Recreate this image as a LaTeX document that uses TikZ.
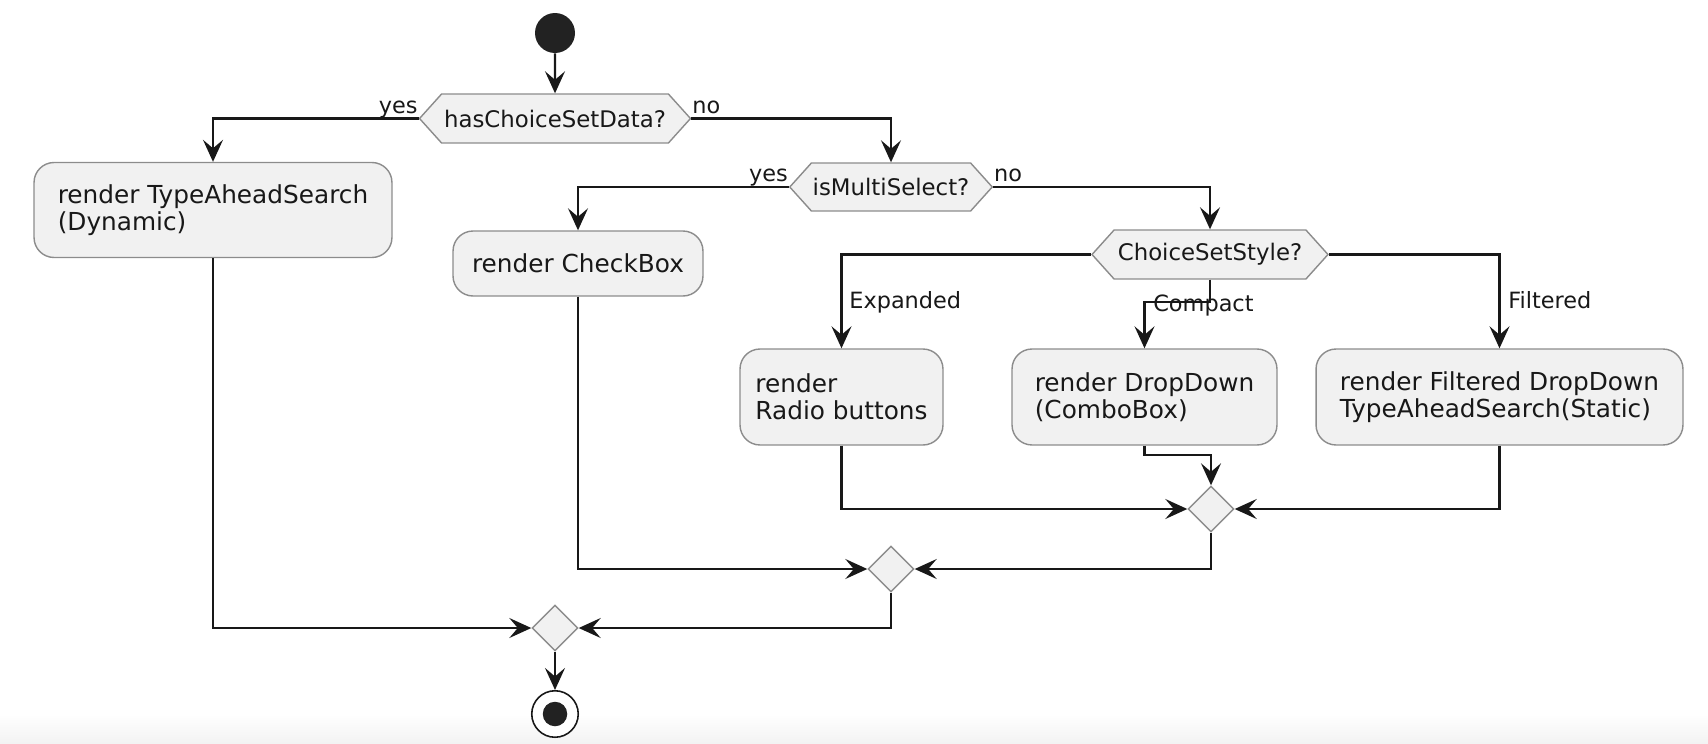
\documentclass[tikz,border=0pt]{standalone}
\usepackage{fontspec}
\setmainfont{DejaVu Sans}
\usetikzlibrary{arrows.meta, shapes.geometric, shapes.symbols}

\definecolor{linecol}{HTML}{181818}
\definecolor{boxfill}{HTML}{F1F1F1}
\definecolor{boxline}{HTML}{8C8C8C}
\definecolor{dotcol}{HTML}{222222}

\tikzset{
  actbox/.style={draw=boxline, fill=boxfill, line width=0.8pt,
                 rounded corners=0.4cm, align=left, inner sep=0pt,
                 text=linecol, font=\fontsize{14.1pt}{15.5pt}\selectfont},
  decision/.style={signal, signal to=west and east, signal pointer angle=96,
                   draw=boxline, fill=boxfill, line width=0.8pt, inner sep=0pt,
                   minimum height=0.98cm, text=linecol,
                   font=\fontsize{13pt}{15pt}\selectfont},
  merge/.style={diamond, aspect=1, draw=boxline, fill=boxfill, line width=0.8pt,
                inner sep=0pt, minimum size=0.92cm},
  flow/.style={draw=linecol, line width=1.2pt,
               -{Stealth[length=0.44cm, width=0.4cm, inset=0.17cm]}},
  lbl/.style={inner sep=0pt, text=linecol,
              font=\fontsize{12.75pt}{15pt}\selectfont},
}

\begin{document}
\begin{tikzpicture}[x=0.02cm, y=-0.02cm]
    \useasboundingbox (0,0) rectangle (1708,744);
    \shade[top color=white, bottom color=black!5] (0,714) rectangle (1708,744);

    % ======== START AND DECISIONS ========
    \node[circle, fill=dotcol, minimum size=0.8cm, inner sep=0pt] (start) at (555,33) {};
    \node[decision, minimum width=5.42cm] (hasdata) at (555,118.5) {hasChoiceSetData?};
    \node[decision, minimum width=4.05cm, minimum height=0.96cm] (multi) at (891,187) {isMultiSelect?};
    \node[decision, minimum width=4.72cm] (style) at (1210,254.5) {ChoiceSetStyle?};

    % ======== ACTIONS ========
    \node[actbox, minimum width=7.16cm, minimum height=1.9cm] (typeahead) at (213,210)
      {render TypeAheadSearch\\(Dynamic)};
    \node[actbox, minimum width=5.0cm, minimum height=1.3cm] (checkbox) at (578,263.5)
      {render CheckBox};
    \node[actbox, minimum width=4.06cm, minimum height=1.92cm] (radio) at (841.5,397)
      {render\\Radio buttons};
    \node[actbox, minimum width=5.3cm, minimum height=1.92cm] (dropdown) at (1144.5,397)
      {render DropDown\\(ComboBox)};
    \node[actbox, minimum width=7.34cm, minimum height=1.92cm] (filtered) at (1499.5,397)
      {render Filtered DropDown\\TypeAheadSearch(Static)};

    % ======== MERGES AND STOP ========
    \node[merge] (mergeA) at (1211,509) {};
    \node[merge] (mergeB) at (891,569) {};
    \node[merge] (mergeC) at (555,628) {};
    \node[circle, draw=linecol, line width=0.9pt, fill=white, minimum size=0.93cm,
          inner sep=0pt, path picture={\fill[dotcol] (path picture bounding box.center)
          circle[radius=0.245cm];}] (stop) at (555,714) {};

    % ======== BRANCHES ========
    \draw[flow] (start) -- (hasdata);
    \draw[flow] (hasdata.west) node[lbl, anchor=base east, yshift=0.11cm] {yes} -| (typeahead.north);
    \draw[flow] (hasdata.east) node[lbl, anchor=base west, yshift=0.11cm] {no} -| (multi.north);
    \draw[flow] (multi.west) node[lbl, anchor=base east, yshift=0.11cm] {yes} -| (checkbox.north);
    \draw[flow] (multi.east) node[lbl, anchor=base west, yshift=0.11cm] {no} -| (style.north);

    \coordinate (compactbend) at ([yshift=-0.44cm]style.south);
    \draw[flow] (style.west) -| (radio.north);
    \draw[flow] (style.south) -- (compactbend) -| (dropdown.north);
    \draw[flow] (style.east) -| (filtered.north);
    \node[lbl, anchor=base west] (lblexp) at ([xshift=0.15cm, yshift=0.8cm]radio.north) {Expanded};
    \node[lbl, anchor=base west] (lblcmp) at ([xshift=0.17cm, yshift=0.74cm]dropdown.north) {Compact};
    \node[lbl, anchor=base west] (lblfil) at ([xshift=0.17cm, yshift=0.8cm]filtered.north) {Filtered};

    % ======== JOINS ========
    \draw[flow] (radio.south) |- (mergeA.west);
    \draw[flow] (dropdown.south) -- ++(0,9) -| (mergeA.north);
    \draw[flow] (filtered.south) |- (mergeA.east);
    \draw[flow] (checkbox.south) |- (mergeB.west);
    \draw[flow] (mergeA.south) |- (mergeB.east);
    \draw[flow] (typeahead.south) |- (mergeC.west);
    \draw[flow] (mergeB.south) |- (mergeC.east);
    \draw[flow] (mergeC) -- (stop);

\end{tikzpicture}
\end{document}
